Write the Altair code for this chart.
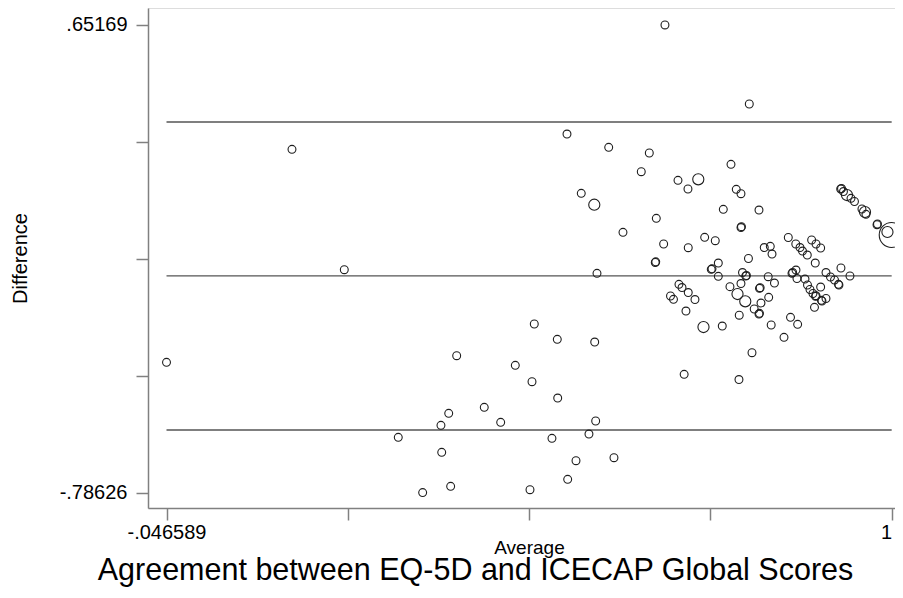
import altair as alt
import pandas as pd

# Average of the two scores (x) and their difference (y); weight = marker weight
average = [
    -0.046589, 0.1345, 0.2100, 0.6728, 0.7945,
    0.3722, 0.4842, 0.5174, 0.4568, 0.5714,
    0.2879, 0.3495, 0.3607, 0.3506, 0.3231, 0.3635, 0.4120, 0.4357, 0.4809, 0.5180,
    0.5097, 0.4780, 0.5444, 0.5324, 0.5728, 0.5631, 0.5992,
    0.5314, 0.5916, 0.6502, 0.6386, 0.6916, 0.7060, 0.7209, 0.7681, 0.5520, 0.5708,
    0.7570, 0.6603, 0.6122, 0.6709, 0.7301, 0.7454, 0.7064, 0.7757, 0.7825, 0.8085,
    0.7832, 0.7825, 0.5747,
    0.8508, 0.8616, 0.8677, 0.8713, 0.8782, 0.8845, 0.8908, 0.8975, 0.8161, 0.8248,
    0.8273, 0.7933, 0.6588, 0.6595, 0.7498, 0.7396, 0.7407, 0.7498, 0.7847, 0.7894,
    0.7904, 0.8218, 0.8308, 0.8897, 0.8561, 0.8571, 0.8619, 0.8633, 0.8749, 0.9268,
    0.9398, 0.9052, 0.9117, 0.9175, 0.9239, 0.9232, 0.8785, 0.8821, 0.8864, 0.8901,
    0.8908, 0.8975, 0.8994, 0.8986, 0.9052, 0.8886,
    0.6930, 0.6974, 0.7064, 0.6808, 0.6851, 0.7161, 0.7031, 0.7284, 0.7555, 0.7666,
    0.7825, 0.7775, 0.7887, 0.7800, 0.8016, 0.8085, 0.8092, 0.8114, 0.8092, 0.8102,
    0.8225, 0.8261, 0.8540, 0.8643, 0.8446, 0.7984, 0.7005, 0.7796,
    0.9264, 0.9276, 0.9304, 0.9355, 0.9413, 0.9463, 0.9571, 0.9615, 0.9629, 0.9795,
    0.9788, 0.9939, 1.0,
]
difference = [
    -0.3856, 0.2694, -0.1009, 0.65169, 0.4087,
    -0.3653, -0.2678, -0.3149, -0.3948, -0.3232,
    -0.6162, -0.5793, -0.5424, -0.6624, -0.78626, -0.7669, -0.5240, -0.5701, -0.4453, -0.4954,
    -0.6193, -0.7774, -0.6882, -0.7454, -0.5661, -0.6061, -0.6790,
    0.3164, 0.2755, 0.2580, 0.2005, 0.1740, 0.1473, 0.1771, 0.2232, 0.1341, 0.0990,
    0.0849, 0.0572, 0.0141, -0.0218, -0.0012, -0.0117, -0.0332, 0.1464, 0.1328, 0.0827,
    0.0314, 0.0289, -0.1119,
    -0.0018, -0.0218, -0.0326, -0.0434, -0.0557, -0.0095, -0.0218, -0.0341, -0.0326, -0.0289,
    -0.0526, -0.0664, -0.0787, -0.0766, -0.0803, -0.0996, -0.0981, -0.1212, -0.1095, -0.1202,
    -0.1187, -0.1224, -0.1418, -0.0803, -0.1119, -0.1095, -0.1018, -0.1279, -0.1295, -0.0956,
    -0.1202, -0.1095, -0.1233, -0.1325, -0.1479, -0.1458, -0.1479, -0.1617, -0.1740, -0.1827,
    -0.1808, -0.1541, -0.1971, -0.1950, -0.1894, -0.2165,
    -0.1458, -0.1556, -0.1710, -0.1817, -0.1919, -0.1925, -0.2279, -0.2771, -0.2740, -0.1531,
    -0.1433, -0.1756, -0.1980, -0.2408, -0.2217, -0.2371, -0.2349, -0.2033, -0.1581, -0.1562,
    -0.1857, -0.2709, -0.2472, -0.2688, -0.3087, -0.3561, -0.4225, -0.4385,
    0.1473, 0.1488, 0.1396, 0.1288, 0.1187, 0.1089, 0.0858, 0.0766, 0.0695, 0.0397,
    0.0375, 0.0151, 0.0058,
]
weight = [
    1, 1, 1, 1, 1,
    1, 1, 1, 1, 1,
    1, 1, 1, 1, 1, 1, 1, 1, 1, 1,
    1, 1, 1, 1, 1, 1, 1,
    1, 1, 1, 1, 1, 1, 2, 1, 1, 2,
    1, 1, 1, 1, 1, 1, 1, 1, 1, 1,
    1, 1, 1,
    1, 1, 1, 1, 1, 1, 1, 1, 1, 1,
    1, 1, 1, 1, 1, 1, 1, 1, 1, 1,
    1, 1, 1, 1, 1, 1, 1, 1, 1, 1,
    1, 1, 1, 1, 1, 1, 1, 1, 1, 1,
    1, 1, 1, 1, 1, 1,
    1, 1, 1, 1, 1, 1, 1, 2, 1, 1,
    1, 2, 2, 1, 1, 1, 1, 1, 1, 1,
    1, 1, 1, 1, 1, 1, 1, 1,
    1, 1, 1, 2, 1, 1, 1, 2, 1, 1,
    1, 2, 10,
]

# Mean difference and limits of agreement
limit_values = [0.3534, -0.1201, -0.5937]
x_range = [-0.046589, 1.0]

x_ticks = [-0.046589, 0.215058, 0.476706, 0.738353, 1.0]
x_tick_labels = ["-.046589", "", "", "", "1"]
y_ticks = [-0.78626, -0.426773, -0.067285, 0.292202, 0.65169]
y_tick_labels = ["-.78626", "", "", "", ".65169"]


def label_expr(vals, labs):
    expr = "''"
    for v, l in zip(vals, labs):
        expr = f"abs(datum.value - ({v})) < 1e-6 ? '{l}' : ({expr})"
    return expr


pts = pd.DataFrame({"avg": average, "diff": difference, "w": weight})
lim = pd.DataFrame({"y": limit_values, "x0": x_range[0], "x1": x_range[1]})

FONT = "Liberation Sans"
x_scale = alt.Scale(domain=[-0.0733, 1.0048], nice=False, zero=False)
y_scale = alt.Scale(domain=[-0.8336, 0.7039], nice=False, zero=False)

x_axis = alt.Axis(
    values=x_ticks, labelExpr=label_expr(x_ticks, x_tick_labels), grid=False,
    tickSize=12, tickColor="#808080", domainColor="#808080", domainWidth=1.5, tickWidth=1.5,
    labelFont=FONT, labelFontSize=20, labelColor="black", labelPadding=2,
    labelOverlap=False, labelFlush=5,
    title="Average", titleFont=FONT, titleFontSize=19, titleFontWeight="normal",
    titleColor="black", titlePadding=-4, titleX=381,
)
y_axis = alt.Axis(
    values=y_ticks, labelExpr=label_expr(y_ticks, y_tick_labels), grid=False,
    tickSize=12, tickColor="#808080", domainColor="#808080", domainWidth=1.5, tickWidth=1.5,
    labelFont=FONT, labelFontSize=20, labelColor="black", labelPadding=9,
    labelOverlap=False, labelFlush=False,
    title="Difference", titleFont=FONT, titleFontSize=20, titleFontWeight="normal",
    titleColor="black", titlePadding=29,
)

rules = alt.Chart(lim).mark_rule(color="#555555", strokeWidth=1.3).encode(
    x=alt.X("x0:Q", scale=x_scale, axis=x_axis),
    x2="x1:Q",
    y=alt.Y("y:Q", scale=y_scale, axis=y_axis),
)

points = alt.Chart(pts).mark_point(
    shape="circle", filled=False, color="#1e1e1e", strokeWidth=1.1, opacity=1
).encode(
    x=alt.X("avg:Q", scale=x_scale),
    y=alt.Y("diff:Q", scale=y_scale),
    size=alt.Size("w:Q", scale=alt.Scale(domain=[0, 10], range=[0, 620]), legend=None),
)

chart = alt.layer(rules, points).properties(
    width=747, height=500,
    autosize=alt.AutoSizeParams(type="none"),
    padding={"left": 140, "top": 0, "right": 0, "bottom": 82},
    title=alt.TitleParams(
        "Agreement between EQ-5D and ICECAP Global Scores", orient="bottom",
        font=FONT, fontSize=30.5, fontWeight="normal", color="black", offset=-1, dx=-46,
    ),
).configure_view(strokeWidth=0).configure(background="white")

chart.save("out.html", embed_options={"renderer": "svg", "actions": False})
